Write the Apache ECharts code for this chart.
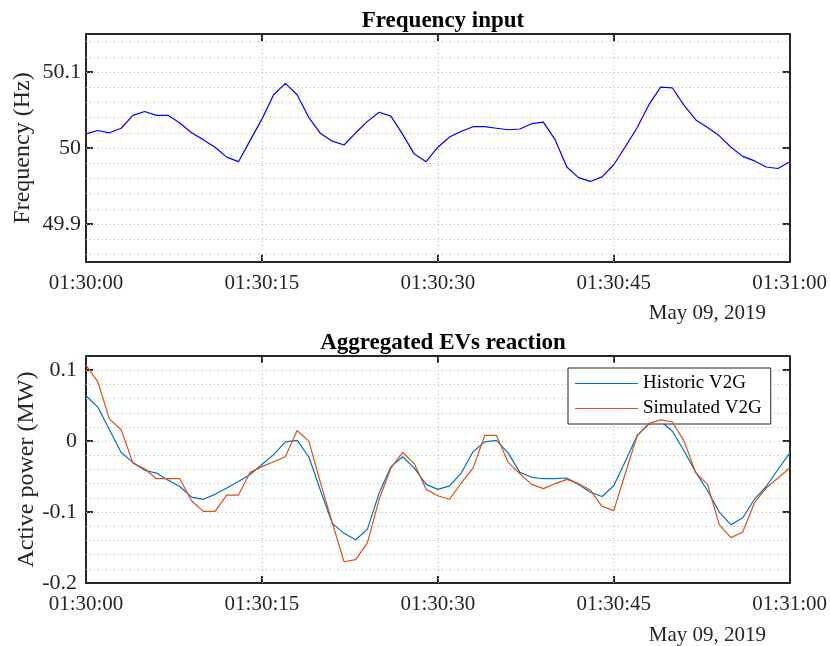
<!DOCTYPE html>
<html>
<head>
<meta charset="utf-8">
<script src="https://cdn.jsdelivr.net/npm/echarts@6/dist/echarts.min.js"></script>
<style>
  html, body { margin: 0; padding: 0; background: #fff; }
  #main { width: 830px; height: 646px; }
</style>
</head>
<body>
<div id="main"></div>
<script>
// seconds after 01:30:00
var seconds = [0,1,2,3,4,5,6,7,8,9,10,11,12,13,14,15,16,17,18,19,20,
    21,22,23,24,25,26,27,28,29,30,31,32,33,34,35,36,37,38,39,40,
    41,42,43,44,45,46,47,48,49,50,51,52,53,54,55,56,57,58,59,60];

// 频率输入 (Hz)
var frequency = [50.0185, 50.023, 50.020, 50.026, 50.043, 50.048, 50.043, 50.043, 50.033, 50.020,
    50.011, 50.001, 49.988, 49.982, 50.010, 50.038, 50.070, 50.085, 50.070, 50.040,
    50.019, 50.009, 50.004, 50.020, 50.035, 50.047, 50.042, 50.018, 49.992, 49.982,
    50.001, 50.0145, 50.022, 50.028, 50.028, 50.026, 50.024, 50.025, 50.032, 50.034,
    50.011, 49.975, 49.961, 49.956, 49.962, 49.978, 50.002, 50.027, 50.057, 50.080,
    50.079, 50.056, 50.037, 50.027, 50.016, 50.001, 49.989, 49.983, 49.975, 49.973,
    49.982];

// EV 有功功率 (MW)
var historicV2G = [0.064, 0.048, 0.016, -0.016, -0.030, -0.041, -0.045, -0.055, -0.064, -0.079,
    -0.082, -0.075, -0.066, -0.057, -0.047, -0.033, -0.019, -0.001, 0.001, -0.022,
    -0.070, -0.116, -0.130, -0.139, -0.124, -0.073, -0.036, -0.022, -0.038, -0.061,
    -0.068, -0.063, -0.045, -0.015, -0.001, 0.001, -0.017, -0.044, -0.051, -0.053,
    -0.053, -0.052, -0.061, -0.072, -0.078, -0.063, -0.028, 0.008, 0.024, 0.028,
    0.014, -0.014, -0.044, -0.070, -0.100, -0.118, -0.108, -0.082, -0.064, -0.040,
    -0.017];
var simulatedV2G = [0.107, 0.084, 0.031, 0.016, -0.031, -0.039, -0.053, -0.053, -0.053, -0.084,
    -0.099, -0.099, -0.076, -0.076, -0.044, -0.036, -0.029, -0.022, 0.015, 0.000,
    -0.059, -0.115, -0.170, -0.167, -0.143, -0.082, -0.038, -0.016, -0.032, -0.068,
    -0.077, -0.082, -0.059, -0.038, 0.008, 0.008, -0.030, -0.046, -0.061, -0.067,
    -0.060, -0.054, -0.060, -0.069, -0.092, -0.098, -0.045, 0.008, 0.025, 0.030,
    0.027, 0.000, -0.045, -0.061, -0.118, -0.136, -0.128, -0.087, -0.066, -0.052,
    -0.038];

// 刻度
var freqTicks = [49.9, 50, 50.1];
var powerTicks = [-0.2, -0.1, 0, 0.1];
var freqGrid = [49.86, 49.88, 49.9, 49.92, 49.94, 49.96, 49.98, 50, 50.02, 50.04,
    50.06, 50.08, 50.1, 50.12, 50.14];
var powerGrid = [-0.18, -0.16, -0.14, -0.12, -0.1, -0.08, -0.06, -0.04, -0.02, 0,
    0.02, 0.04, 0.06, 0.08, 0.1];
var timeGrid = [15, 30, 45];

function pairs(ys) {
    return seconds.map(function (s, i) { return [s, ys[i]]; });
}
function gridLines(yVals) {
    return yVals.map(function (v) { return { yAxis: v }; })
        .concat(timeGrid.map(function (v) { return { xAxis: v }; }));
}
function timeLabel(v) {
    var m = 30 + Math.floor(v / 60), s = v % 60;
    return '01:' + m + ':' + (s < 10 ? '0' + s : s);
}

var FONT = '"Liberation Serif", "Times New Roman", serif';
var INK = '#262626';

function xAxisBottom(gridIndex) {
    return {
        type: 'value', gridIndex: gridIndex, min: 0, max: 60, interval: 15,
        axisLine: { show: true, onZero: false, lineStyle: { color: INK, width: 2 } },
        axisTick: { inside: true, length: 7, lineStyle: { color: INK, width: 2 } },
        axisLabel: { color: INK, fontFamily: FONT, fontSize: 21, margin: 11, formatter: timeLabel },
        splitLine: { show: false }
    };
}
function xAxisTop(gridIndex) {
    return {
        type: 'value', gridIndex: gridIndex, position: 'top', min: 0, max: 60, interval: 15,
        axisLine: { show: true, onZero: false, lineStyle: { color: INK, width: 2 } },
        axisTick: { inside: true, length: 7, lineStyle: { color: INK, width: 2 } },
        axisLabel: { show: false },
        splitLine: { show: false }
    };
}
function yAxisLeft(gridIndex, min, max, ticks, name, gap, margin) {
    return {
        type: 'value', gridIndex: gridIndex, min: min, max: max,
        name: name, nameLocation: 'middle', nameGap: gap, nameMoveOverlap: false,
        nameTextStyle: { color: INK, fontFamily: FONT, fontSize: 24 },
        axisLine: { show: true, onZero: false, lineStyle: { color: INK, width: 2 } },
        axisTick: { inside: true, length: 7, customValues: ticks, lineStyle: { color: INK, width: 2 } },
        axisLabel: { color: INK, fontFamily: FONT, fontSize: 22, margin: margin, customValues: ticks },
        splitLine: { show: false }
    };
}
function yAxisRight(gridIndex, min, max, ticks) {
    return {
        type: 'value', gridIndex: gridIndex, position: 'right', min: min, max: max,
        axisLine: { show: true, onZero: false, lineStyle: { color: INK, width: 2 } },
        axisTick: { inside: true, length: 7, customValues: ticks, lineStyle: { color: INK, width: 2 } },
        axisLabel: { show: false },
        splitLine: { show: false }
    };
}
var dotted = {
    silent: true, symbol: ['none', 'none'], z: 1, animation: false,
    label: { show: false },
    lineStyle: { type: [1, 3], color: '#b8b8b8', width: 1 },
    emphasis: { disabled: true }
};

var myChart = echarts.init(document.getElementById('main'));
var option = {
    animation: false,
    backgroundColor: '#fff',
    title: [{
        text: 'Frequency input', left: 438, top: 5, textAlign: 'center',
        textStyle: { color: '#000', fontFamily: FONT, fontSize: 23, fontWeight: 'bold' }
    }, {
        text: 'Aggregated EVs reaction', left: 438, top: 327, textAlign: 'center',
        textStyle: { color: '#000', fontFamily: FONT, fontSize: 23, fontWeight: 'bold' }
    }, {
        text: 'May 09, 2019', right: 59, top: 298,
        textStyle: { color: INK, fontFamily: FONT, fontSize: 21, fontWeight: 'normal' }
    }, {
        text: 'May 09, 2019', right: 59, top: 620,
        textStyle: { color: INK, fontFamily: FONT, fontSize: 21, fontWeight: 'normal' }
    }],
    legend: {
        data: ['Historic V2G', 'Simulated V2G'],
        orient: 'vertical', left: 568, top: 368,
        icon: 'rect',
        padding: [6, 9, 6, 7], itemGap: 6, itemWidth: 63, itemHeight: 1.2,
        backgroundColor: '#fff', borderColor: INK, borderWidth: 1, borderRadius: 0,
        textStyle: { color: '#000', fontFamily: FONT, fontSize: 19 }
    },
    grid: [
        { left: 86, top: 34, width: 704, height: 228 },
        { left: 86, top: 356, width: 704, height: 227 }
    ],
    xAxis: [xAxisBottom(0), xAxisTop(0), xAxisBottom(1), xAxisTop(1)],
    yAxis: [
        yAxisLeft(0, 49.85, 50.15, freqTicks, 'Frequency (Hz)', 51, 5),
        yAxisRight(0, 49.85, 50.15, freqTicks),
        yAxisLeft(1, -0.2, 0.12, powerTicks, 'Active power (MW)', 47, 9),
        yAxisRight(1, -0.2, 0.12, powerTicks)
    ],
    series: [{
        name: 'Frequency', type: 'line', xAxisIndex: 0, yAxisIndex: 0, z: 3,
        data: pairs(frequency), symbol: 'none', showSymbol: false,
        lineStyle: { color: '#0000ff', width: 1.2 },
        markLine: Object.assign({ data: gridLines(freqGrid) }, dotted)
    }, {
        name: 'Historic V2G', type: 'line', xAxisIndex: 2, yAxisIndex: 2, z: 3,
        data: pairs(historicV2G), symbol: 'none', showSymbol: false,
        itemStyle: { color: '#0072BD' },
        lineStyle: { color: '#0072BD', width: 1.2 },
        markLine: Object.assign({ data: gridLines(powerGrid) }, dotted)
    }, {
        name: 'Simulated V2G', type: 'line', xAxisIndex: 2, yAxisIndex: 2, z: 4,
        data: pairs(simulatedV2G), symbol: 'none', showSymbol: false,
        itemStyle: { color: '#D95319' },
        lineStyle: { color: '#D95319', width: 1.2 }
    }]
};
myChart.clear();
myChart.setOption(option);
</script>
</body>
</html>
